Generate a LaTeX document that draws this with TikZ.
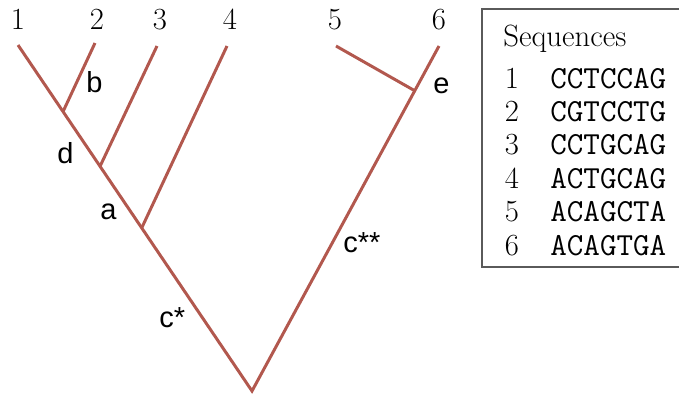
\documentclass[tikz,border=0pt]{standalone}
\usepackage{fontspec}
\setsansfont{Liberation Sans}
\usepackage{tikz}
\usetikzlibrary{calc, positioning}

\definecolor{treered}{RGB}{178,88,78}
\definecolor{boxgray}{RGB}{90,90,90}

\begin{document}
\begin{tikzpicture}[x=0.02cm, y=-0.02cm,
    branch/.style={draw=treered, line width=1.7pt},
    leaf/.style={font=\fontsize{17.5}{20}\selectfont, inner sep=0pt, anchor=base},
    tag/.style={font=\sffamily\fontsize{16.5}{19}\selectfont, inner sep=0pt, anchor=base west},
    seq/.style={font=\ttfamily\fontsize{18.3}{20}\selectfont, inner sep=0pt, anchor=base west}]
    \useasboundingbox (0,0) rectangle (679,397);

    % taxa on top
    \node[leaf] (n1) at (18,29) {1};
    \node[leaf] (n2) at (97,29) {2};
    \node[leaf] (n3) at (160,29) {3};
    \node[leaf] (n4) at (230,29) {4};
    \node[leaf] (n5) at (335,29) {5};
    \node[leaf] (n6) at (439,29) {6};

    % tips and root
    \coordinate (t1) at (18,45);
    \coordinate (t2) at (95,43);
    \coordinate (t3) at (157,46);
    \coordinate (t4) at (227,46);
    \coordinate (t5) at (336,46);
    \coordinate (t6) at (439,46);
    \coordinate (root) at (252,391);

    % inner nodes
    \coordinate (jb) at ($(t1)!0.1925!(root)$);
    \coordinate (jd) at ($(t1)!0.3506!(root)$);
    \coordinate (ja) at ($(t1)!0.5287!(root)$);
    \coordinate (je) at ($(t6)!0.1297!(root)$);

    \draw[branch] (t1) -- (root) -- (t6);
    \draw[branch] (jb) -- (t2);
    \draw[branch] (jd) -- (t3);
    \draw[branch] (ja) -- (t4);
    \draw[branch] (je) -- (t5);

    % branch labels
    \node[tag] (lb) at (86,92) {b};
    \node[tag] (ld) at (57,163) {d};
    \node[tag] (la) at (100,219) {a};
    \node[tag] (lcs) at (159,327) {c*};
    \node[tag] (lcss) at (343,252) {c**};
    \node[tag] (le) at (433,93) {e};

    % sequence box
    \draw[boxgray, line width=0.8pt] (690,9) -- (482,9) -- (482,267) -- (690,267);
    \node[font=\fontsize{17.5}{20}\selectfont, inner sep=0pt, anchor=base west] (title) at (503,46) {Sequences};
    \foreach \s [count=\i] in {CCTCCAG, CGTCCTG, CCTGCAG, ACTGCAG, ACAGCTA, ACAGTGA} {
        \node[leaf] (num\i) at (512, {88+33.4*(\i-1)}) {\i};
        \node[seq] (seq\i) at (550, {88+33.4*(\i-1)}) {\s};
    }
\end{tikzpicture}
\end{document}
